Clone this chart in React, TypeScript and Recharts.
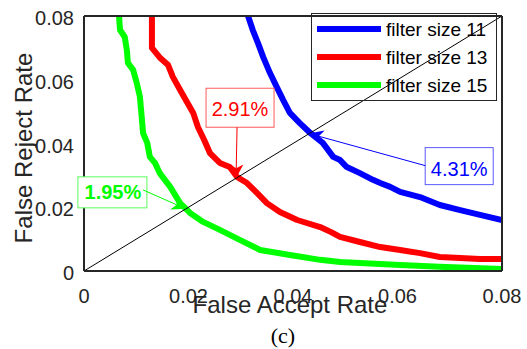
import { Label, Legend, Line, LineChart, ReferenceDot, ReferenceLine, XAxis, YAxis } from "recharts";

// [false accept rate, false reject rate]
const size11: [number, number][] = [
  [0.0314, 0.08], [0.0323, 0.0756], [0.0333, 0.0715], [0.0343, 0.0671], [0.0356, 0.0621],
  [0.0369, 0.0577], [0.0381, 0.0537], [0.0394, 0.0496], [0.0413, 0.0464], [0.0433, 0.0433],
  [0.0457, 0.0402], [0.0477, 0.0358], [0.049, 0.0348], [0.0503, 0.0326], [0.0528, 0.0307],
  [0.0553, 0.0286], [0.0567, 0.0276], [0.0586, 0.0264], [0.0605, 0.0248], [0.0643, 0.0232],
  [0.0681, 0.0207], [0.072, 0.0191], [0.0758, 0.0176], [0.08, 0.016],
];

const size13: [number, number][] = [
  [0.013, 0.08], [0.013, 0.07], [0.0146, 0.0668], [0.0161, 0.0646], [0.017, 0.0609],
  [0.0184, 0.0568], [0.0197, 0.053], [0.0209, 0.0496], [0.0218, 0.0452], [0.023, 0.0411],
  [0.0241, 0.037], [0.026, 0.0339], [0.0279, 0.0326], [0.0293, 0.0295], [0.0312, 0.0276],
  [0.0331, 0.0245], [0.035, 0.0213], [0.0375, 0.0185], [0.0408, 0.016], [0.0452, 0.0138],
  [0.0473, 0.0122], [0.049, 0.0107], [0.0528, 0.0091], [0.0567, 0.0075], [0.0605, 0.0066],
  [0.0643, 0.0056], [0.0681, 0.0044], [0.072, 0.0041], [0.0758, 0.0038], [0.08, 0.0038],
];

const size15: [number, number][] = [
  [0.0067, 0.08], [0.0069, 0.0756], [0.0078, 0.0734], [0.0082, 0.0693], [0.0084, 0.0653],
  [0.0094, 0.0631], [0.0101, 0.059], [0.0107, 0.0546], [0.0111, 0.0474], [0.0113, 0.0433],
  [0.0121, 0.0402], [0.0126, 0.0358], [0.0136, 0.0339], [0.0145, 0.0307], [0.0165, 0.0264],
  [0.0184, 0.0213], [0.0203, 0.0182], [0.0228, 0.0154], [0.026, 0.0129], [0.0299, 0.0097],
  [0.0337, 0.0066], [0.0394, 0.005], [0.0452, 0.0035], [0.049, 0.0028], [0.0605, 0.0019],
  [0.068, 0.0013], [0.08, 0.0006],
];

const seriesNames = ["filter size 11", "filter size 13", "filter size 15"];
const eerValues = [0.0431, 0.0291, 0.0195];
const eerLabels = ["4.31%", "2.91%", "1.95%"];
const axisTicks = [0, 0.02, 0.04, 0.06, 0.08];

const FONT = "'Liberation Sans', Arial, sans-serif";
const AXIS = "#262626";
const TICK_LINE = { stroke: AXIS, strokeWidth: 2 };

const toRows = (pts: [number, number][]) => pts.map(([far, frr]) => ({ far, frr }));

const series = [
  { name: seriesNames[0], color: "#0000ff", data: toRows(size11) },
  { name: seriesNames[1], color: "#ff0000", data: toRows(size13) },
  { name: seriesNames[2], color: "#00ff00", data: toRows(size15) },
];

// callout boxes, offsets in px relative to the arrow tip
const callouts = [
  { color: "#0000ff", border: "#5a5aff", bold: false, box: [116, 14, 68, 37], from: [116, 32], text: [150, 42] },
  { color: "#ff0000", border: "#ff5a5a", bold: false, box: [-30, -90, 68, 39], from: [1, -51], text: [4, -62] },
  { color: "#00ff00", border: "#5aff5a", bold: true, box: [-108, -32, 69, 31], from: [-43, -19], text: [-73, -10] },
];

const fmt = (v: number) => (v === 0 ? "0" : v.toFixed(2));
const blank = () => "";

function Callout(props: any) {
  const { cx, cy, c, text } = props;
  if (cx == null || cy == null) return null;
  const sx = cx + c.from[0];
  const sy = cy + c.from[1];
  const dx = cx - sx;
  const dy = cy - sy;
  const len = Math.hypot(dx, dy);
  const ux = dx / len;
  const uy = dy / len;
  const nx = -uy;
  const ny = ux;
  const L = 14;
  const W = 7;
  const N = 4;
  const head = [
    [cx, cy],
    [cx - L * ux + W * nx, cy - L * uy + W * ny],
    [cx - (L - N) * ux, cy - (L - N) * uy],
    [cx - L * ux - W * nx, cy - L * uy - W * ny],
  ]
    .map((p) => p.join(","))
    .join(" ");
  return (
    <g>
      <rect
        x={cx + c.box[0]}
        y={cy + c.box[1]}
        width={c.box[2]}
        height={c.box[3]}
        fill="#fff"
        stroke={c.border}
        strokeWidth={1}
      />
      <text
        x={cx + c.text[0]}
        y={cy + c.text[1]}
        textAnchor="middle"
        fontFamily={FONT}
        fontSize={20}
        fontWeight={c.bold ? "bold" : "normal"}
        fill={c.color}
      >
        {text}
      </text>
      <line x1={sx} y1={sy} x2={cx - (L - N) * ux} y2={cy - (L - N) * uy} stroke={c.color} strokeWidth={1} />
      <polygon points={head} fill={c.color} />
    </g>
  );
}

function LegendBox() {
  return (
    <svg width={186} height={88} style={{ display: "block" }}>
      <rect x={0.5} y={0.5} width={185} height={87} fill="none" stroke={AXIS} strokeWidth={1} />
      {series.map((s, i) => (
        <g key={s.name}>
          <line x1={6} x2={70} y1={16 + i * 28} y2={16 + i * 28} stroke={s.color} strokeWidth={6} />
          <text x={75} y={23 + i * 28} fontFamily={FONT} fontSize={19} fill="#000">
            {s.name}
          </text>
        </g>
      ))}
    </svg>
  );
}

// tick marks pointing into the plot on all four sides (mirrored axes take no room)
const frameAxes = [
  { id: "b", orientation: "bottom" as const },
  { id: "t", orientation: "top" as const },
];
const frameYAxes = [
  { id: "l", orientation: "left" as const },
  { id: "r", orientation: "right" as const },
];

export default function App() {
  return (
    <div style={{ position: "absolute", left: 0, top: 0, width: 527, height: 349, background: "#fff" }}>
      <LineChart width={527} height={349} margin={{ top: 16, right: 25, bottom: 48, left: 24 }}>
        <XAxis
          type="number"
          dataKey="far"
          domain={[0, 0.08]}
          ticks={axisTicks}
          tickFormatter={fmt}
          height={30}
          allowDataOverflow
          stroke={AXIS}
          strokeWidth={2}
          tickLine={false}
          tickSize={0}
          tickMargin={18}
          tick={{ fill: AXIS, fontSize: 20, fontFamily: FONT }}
        >
          <Label
            content={(p: any) => {
              const vb = p.viewBox;
              return (
                <text x={vb.x + vb.width / 2 - 3} y={vb.y + 42} textAnchor="middle" fontFamily={FONT} fontSize={24} fill={AXIS}>
                  False Accept Rate
                </text>
              );
            }}
          />
        </XAxis>
        <YAxis
          type="number"
          dataKey="frr"
          domain={[0, 0.08]}
          ticks={axisTicks}
          tickFormatter={fmt}
          width={60}
          allowDataOverflow
          stroke={AXIS}
          strokeWidth={2}
          tickLine={false}
          tickSize={0}
          tickMargin={10}
          tick={{ fill: AXIS, fontSize: 20, fontFamily: FONT, dy: 2 }}
        >
          <Label
            content={(p: any) => {
              const vb = p.viewBox;
              const x = vb.x + 8;
              const y = vb.y + vb.height / 2 + 4.5;
              return (
                <text x={x} y={y} transform={`rotate(-90 ${x} ${y})`} textAnchor="middle" fontFamily={FONT} fontSize={24} fill={AXIS}>
                  False Reject Rate
                </text>
              );
            }}
          />
        </YAxis>
        {frameAxes.map((a) => (
          <XAxis
            key={a.id}
            xAxisId={a.id}
            orientation={a.orientation}
            mirror
            type="number"
            domain={[0, 0.08]}
            ticks={axisTicks}
            tickFormatter={blank}
            height={1}
            stroke={AXIS}
            strokeWidth={2}
            tickSize={6}
            tickLine={TICK_LINE}
          />
        ))}
        {frameYAxes.map((a) => (
          <YAxis
            key={a.id}
            yAxisId={a.id}
            orientation={a.orientation}
            mirror
            type="number"
            domain={[0, 0.08]}
            ticks={axisTicks}
            tickFormatter={blank}
            width={1}
            stroke={AXIS}
            strokeWidth={2}
            tickSize={6}
            tickLine={TICK_LINE}
          />
        ))}
        {series.map((s) => (
          <Line
            key={s.name}
            data={s.data}
            dataKey="frr"
            name={s.name}
            type="linear"
            stroke={s.color}
            strokeWidth={6}
            strokeLinejoin="round"
            strokeLinecap="round"
            dot={false}
            activeDot={false}
            isAnimationActive={false}
          />
        ))}
        <ReferenceLine
          segment={[
            { x: 0, y: 0 },
            { x: 0.08, y: 0.08 },
          ]}
          stroke="#000"
          strokeWidth={1}
        />
        {eerValues.map((v, i) => (
          <ReferenceDot
            key={eerLabels[i]}
            x={v}
            y={v}
            r={0}
            shape={(p: any) => <Callout cx={p.cx} cy={p.cy} c={callouts[i]} text={eerLabels[i]} />}
          />
        ))}
        <Legend
          layout="vertical"
          align="center"
          verticalAlign="middle"
          wrapperStyle={{ position: "absolute", left: 311, top: 13, width: 186, height: 88 }}
          content={() => <LegendBox />}
        />
      </LineChart>
      <div
        style={{
          position: "absolute",
          left: 233,
          top: 323,
          width: 100,
          textAlign: "center",
          fontFamily: "'Liberation Serif', 'Times New Roman', serif",
          fontSize: 22,
          lineHeight: "26px",
          color: "#000",
        }}
      >
        (c)
      </div>
    </div>
  );
}
